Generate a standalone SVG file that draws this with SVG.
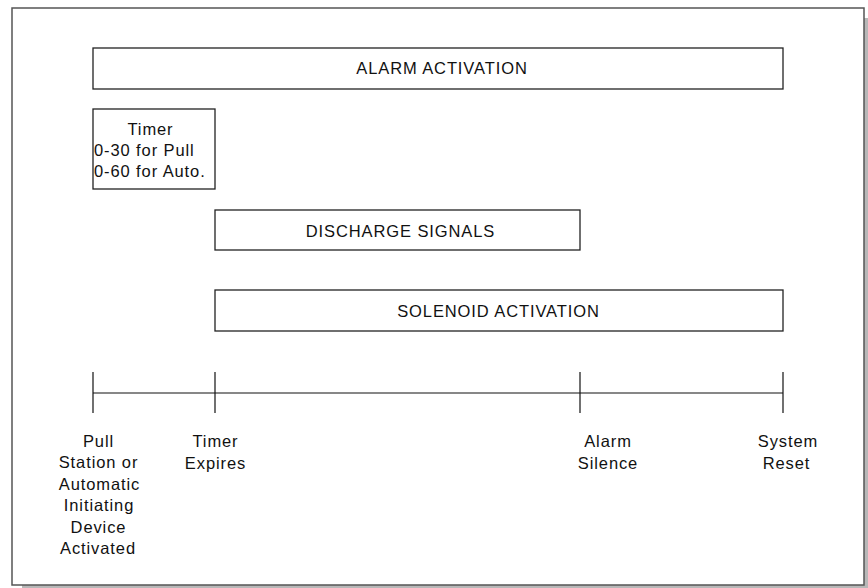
<svg xmlns="http://www.w3.org/2000/svg" width="868" height="588" viewBox="0 0 868 588">
<style>
.box{fill:#fff;stroke:#222;stroke-width:1.3}
.t{font-family:"Liberation Sans",Arial,Helvetica,sans-serif;font-size:16.5px;letter-spacing:0.9px;fill:#111;text-anchor:middle}
.tl{text-anchor:start}
.ln{stroke:#111;stroke-width:1.2;fill:none}
</style>
<rect x="22" y="18" width="846" height="570" fill="#b8b8b8"/>
<rect x="12" y="8" width="852" height="577" fill="#fff" stroke="#555" stroke-width="1.5"/>
<g id="alarm-activation">
<rect class="box" x="93" y="48" width="690" height="41"/>
<text class="t" x="442" y="74">ALARM ACTIVATION</text>
</g>
<g id="timer">
<rect class="box" x="93" y="109" width="122" height="80"/>
<text class="t" x="150.5" y="135">Timer</text>
<text class="t tl" x="94" y="156">0-30 for Pull</text>
<text class="t tl" x="94" y="177">0-60 for Auto.</text>
</g>
<g id="discharge-signals">
<rect class="box" x="215" y="210" width="365" height="40"/>
<text class="t" x="400.5" y="237">DISCHARGE SIGNALS</text>
</g>
<g id="solenoid-activation">
<rect class="box" x="215" y="290" width="568" height="41"/>
<text class="t" x="498.5" y="317">SOLENOID ACTIVATION</text>
</g>
<g id="connectors">
<line class="ln" x1="93" y1="393" x2="783" y2="393"/>
<line class="ln" x1="93" y1="372" x2="93" y2="413"/>
<line class="ln" x1="215" y1="372" x2="215" y2="413"/>
<line class="ln" x1="580" y1="372" x2="580" y2="413"/>
<line class="ln" x1="783" y1="372" x2="783" y2="413"/>
</g>
<g id="event-pull-station">
<text class="t" x="98.5" y="446.5">Pull</text>
<text class="t" x="98.5" y="468">Station or</text>
<text class="t" x="99.5" y="489.5">Automatic</text>
<text class="t" x="99" y="511">Initiating</text>
<text class="t" x="98.5" y="532.5">Device</text>
<text class="t" x="98" y="554">Activated</text>
</g>
<g id="event-timer-expires">
<text class="t" x="215.5" y="447">Timer</text>
<text class="t" x="215.5" y="469">Expires</text>
</g>
<g id="event-alarm-silence">
<text class="t" x="608" y="447">Alarm</text>
<text class="t" x="608" y="469">Silence</text>
</g>
<g id="event-system-reset">
<text class="t" x="788" y="447">System</text>
<text class="t" x="786.5" y="469">Reset</text>
</g>
</svg>
